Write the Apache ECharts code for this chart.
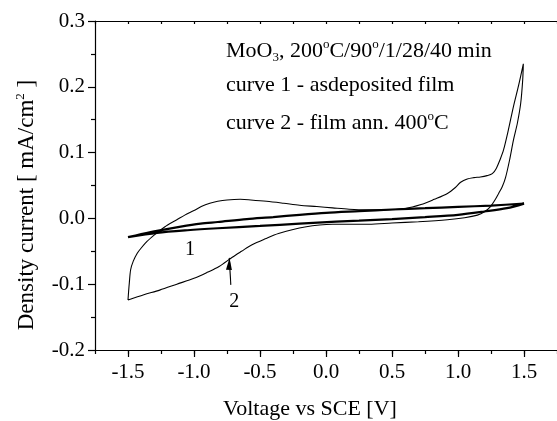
<!DOCTYPE html>
<html>
<head>
<meta charset="utf-8">
<script src="https://cdn.jsdelivr.net/npm/echarts@6/dist/echarts.min.js"></script>
<style>
  html, body { margin: 0; padding: 0; background: #fff; }
  #chart { width: 557px; height: 421px; }
</style>
</head>
<body>
<div id="chart"></div>
<script>
// curve 1 - as-deposited film (thin loop)
const c1Forward = [
  [-1.5, -0.0285], [-1.4, -0.024], [-1.28, -0.019], [-1.1, -0.0125], [-0.95, -0.008],
  [-0.82, -0.0055], [-0.6, -0.001], [-0.4, 0.002], [-0.2, 0.0055], [0, 0.0085],
  [0.25, 0.011], [0.5, 0.0135], [0.75, 0.0155], [1.0, 0.0175], [1.25, 0.0195], [1.5, 0.0225]
]
const c1Reverse = [
  [1.5, 0.0225], [1.37, 0.0155], [1.2, 0.0105], [1.0, 0.0055], [0.75, 0.002], [0.5, -0.001],
  [0.25, -0.0035], [0.076, -0.005], [-0.2, -0.008], [-0.5, -0.0115], [-0.82, -0.015],
  [-1.05, -0.018], [-1.28, -0.022], [-1.5, -0.0285]
]

// curve 2 - film annealed at 400 C
const c2Anodic = [
  [-1.5, -0.124], [-1.495, -0.11], [-1.49, -0.098], [-1.48, -0.078], [-1.46, -0.065],
  [-1.43, -0.053], [-1.4, -0.045], [-1.356, -0.035], [-1.3, -0.025], [-1.256, -0.018],
  [-1.2, -0.01], [-1.13, -0.002], [-1.07, 0.005], [-1.0, 0.012], [-0.945, 0.018],
  [-0.88, 0.023], [-0.82, 0.026], [-0.75, 0.028], [-0.65, 0.029], [-0.57, 0.028],
  [-0.45, 0.026], [-0.32, 0.023], [-0.2, 0.02], [-0.07, 0.018], [0.05, 0.016],
  [0.175, 0.014], [0.3, 0.013], [0.45, 0.013], [0.6, 0.015], [0.72, 0.021], [0.82, 0.029],
  [0.92, 0.038], [0.98, 0.047], [1.02, 0.055], [1.07, 0.06], [1.12, 0.062], [1.17, 0.063],
  [1.22, 0.065], [1.26, 0.068], [1.29, 0.076], [1.32, 0.09], [1.345, 0.104], [1.38, 0.133],
  [1.42, 0.17], [1.46, 0.203], [1.495, 0.235]
]
const c2Cathodic = [
  [1.495, 0.235], [1.49, 0.21], [1.475, 0.175], [1.45, 0.145], [1.42, 0.119], [1.39, 0.088],
  [1.36, 0.062], [1.335, 0.048], [1.308, 0.038], [1.28, 0.028], [1.246, 0.018], [1.2, 0.01],
  [1.147, 0.005], [1.05, 0.001], [0.92, -0.002], [0.7, -0.005], [0.5, -0.007], [0.325, -0.009],
  [0.15, -0.009], [0.05, -0.009], [-0.16, -0.013], [-0.36, -0.023], [-0.46, -0.031],
  [-0.56, -0.04], [-0.64, -0.05], [-0.71, -0.059], [-0.81, -0.073], [-0.9, -0.082],
  [-1.0, -0.091], [-1.13, -0.1], [-1.26, -0.109], [-1.38, -0.116], [-1.5, -0.124]
]

const xMajorTicks = [-1.5, -1.0, -0.5, 0, 0.5, 1.0, 1.5]
const curveLabelNames = ['1', '2']
const curveLabelPos = [[-1.03, -0.048], [-0.696, -0.127]]
const arrowFrom = [-0.721, -0.101]
const arrowTo = [-0.733, -0.06]

const serif = "'Liberation Serif', 'Times New Roman', serif"
const black = '#000'

const chart = echarts.init(document.getElementById('chart'), null, { renderer: 'canvas' })

const baseAxis = {
  type: 'value',
  min: -1.75,
  max: 1.75,
  splitLine: { show: false }
}

const textRich = {
  sup: { fontSize: 13, fontFamily: serif, color: black, lineHeight: 13, verticalAlign: 'top' },
  sub: { fontSize: 13, fontFamily: serif, color: black, lineHeight: 11, verticalAlign: 'bottom' }
}

function note(x, y, text, size, align) {
  return {
    type: 'text',
    x,
    y,
    style: {
      text,
      fontSize: size || 22,
      fontFamily: serif,
      fill: black,
      lineHeight: 26,
      align: align || 'left',
      verticalAlign: 'middle',
      rich: textRich
    }
  }
}

chart.setOption({
  animation: false,
  backgroundColor: '#fff',
  grid: { left: 95, top: 21, right: -7, bottom: 71 },
  xAxis: [
    Object.assign({}, baseAxis, {
      position: 'bottom',
      axisLine: { onZero: false, lineStyle: { color: black, width: 1.2 } },
      axisTick: { customValues: xMajorTicks, length: 7, lineStyle: { color: black, width: 1.2 } },
      axisLabel: {
        customValues: xMajorTicks,
        margin: 12,
        fontFamily: serif,
        fontSize: 21,
        color: black,
        formatter: (v) => v.toFixed(1)
      }
    }),
    Object.assign({}, baseAxis, {
      position: 'bottom',
      interval: 0.25,
      axisLine: { show: false, onZero: false },
      axisTick: { length: 4, lineStyle: { color: black, width: 1.2 } },
      axisLabel: { show: false }
    }),
    Object.assign({}, baseAxis, {
      position: 'top',
      interval: 0.25,
      axisLine: { onZero: false, lineStyle: { color: black, width: 1.2 } },
      axisTick: { inside: true, length: 3, lineStyle: { color: black, width: 1.2 } },
      axisLabel: { show: false }
    })
  ],
  yAxis: {
    type: 'value',
    min: -0.2,
    max: 0.3,
    interval: 0.1,
    axisLine: { onZero: false, lineStyle: { color: black, width: 1.2 } },
    axisTick: { length: 7, lineStyle: { color: black, width: 1.2 } },
    minorTick: { show: true, splitNumber: 2, length: 4, lineStyle: { color: black, width: 1.2 } },
    axisLabel: {
      margin: 10,
      fontFamily: serif,
      fontSize: 21,
      color: black,
      formatter: (v) => v.toFixed(1)
    },
    splitLine: { show: false }
  },
  series: [
    {
      name: 'curve 1',
      type: 'line',
      data: c1Forward.concat(c1Reverse),
      showSymbol: false,
      smooth: 0.3,
      lineStyle: { color: black, width: 2.2 }
    },
    {
      name: 'curve 2',
      type: 'line',
      data: c2Anodic.concat(c2Cathodic),
      showSymbol: false,
      smooth: 0.3,
      lineStyle: { color: black, width: 1.1 }
    },
    {
      name: 'arrow',
      type: 'line',
      data: [
        { value: arrowFrom, symbol: 'none' },
        { value: arrowTo, symbol: 'triangle', symbolSize: [6, 12], symbolOffset: [0, '50%'], symbolRotate: -3 }
      ],
      showSymbol: true,
      itemStyle: { color: black },
      lineStyle: { color: black, width: 1.1 }
    }
  ]
})

// curve numbers placed through the chart's own coordinate system
chart.setOption({
  graphic: [
    note(226, 51, 'MoO{sub|3}, 200{sup|o}C/90{sup|o}/1/28/40 min'),
    note(226, 85, 'curve 1 - asdeposited film'),
    note(226, 123, 'curve 2 - film ann. 400{sup|o}C'),
    note(310, 409, 'Voltage vs SCE [V]', 22, 'center'),
    Object.assign(note(27, 205, 'Density current [ mA/cm{sup|2} ]', 23, 'center'), { rotation: Math.PI / 2 })
  ].concat(curveLabelNames.map((name, i) => {
    const p = chart.convertToPixel({ gridIndex: 0 }, curveLabelPos[i])
    return note(p[0], p[1], name, 20, 'center')
  }))
})
</script>
</body>
</html>
